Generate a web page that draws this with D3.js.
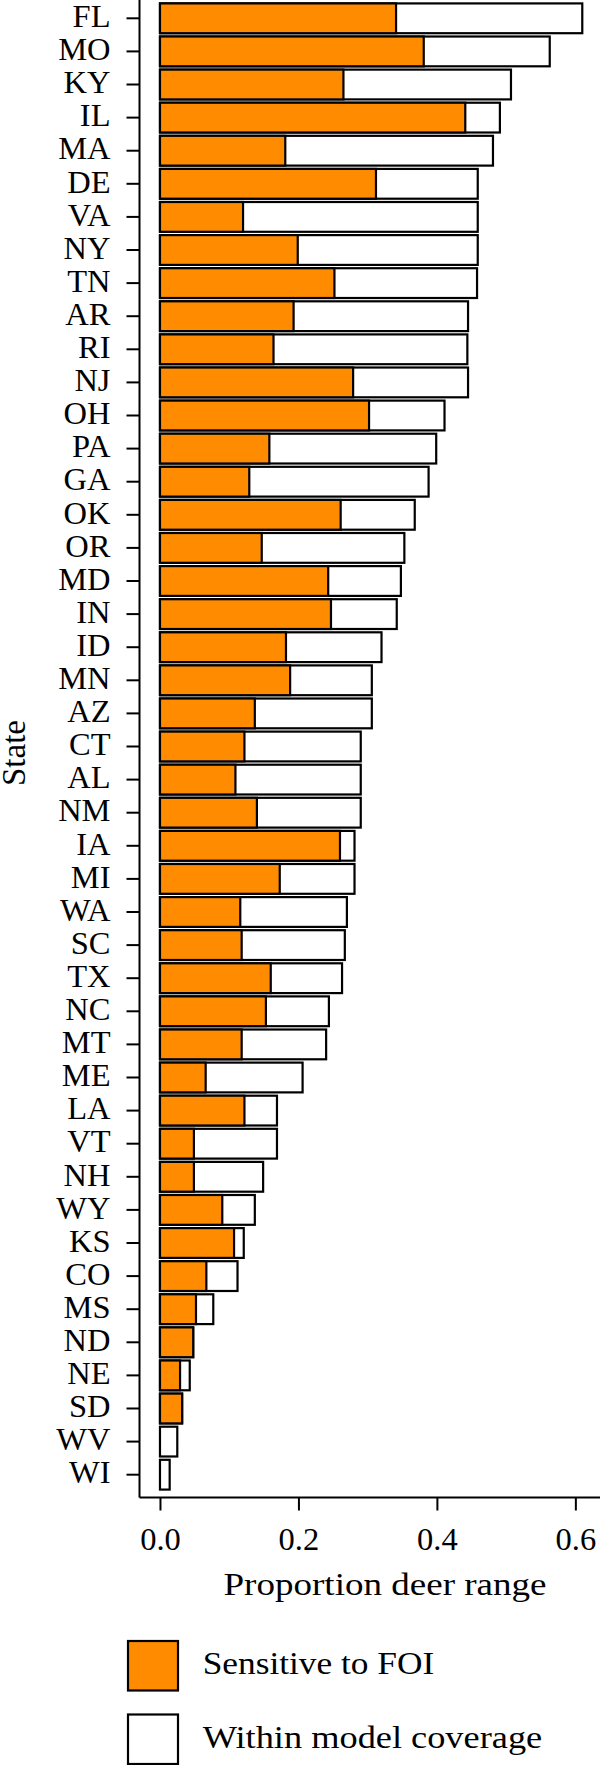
<!DOCTYPE html>
<html>
<head>
<meta charset="utf-8">
<script src="https://cdn.jsdelivr.net/npm/d3@7"></script>
<style>
  html, body { margin: 0; padding: 0; background: #ffffff; }
  svg { display: block; }
  text { font-family: "Liberation Serif", "Times New Roman", serif; fill: #000; }
</style>
</head>
<body>
<div id="chart"></div>
<script>
// ---- data ----
const states = ["FL","MO","KY","IL","MA","DE","VA","NY","TN","AR","RI","NJ","OH","PA","GA",
  "OK","OR","MD","IN","ID","MN","AZ","CT","AL","NM","IA","MI","WA","SC","TX",
  "NC","MT","ME","LA","VT","NH","WY","KS","CO","MS","ND","NE","SD","WV","WI"];
const sensitiveFOI = [0.341,0.381,0.265,0.441,0.181,0.312,0.120,0.199,0.252,0.193,0.164,0.279,0.302,0.158,0.129,
  0.261,0.147,0.243,0.247,0.182,0.188,0.137,0.122,0.109,0.140,0.260,0.173,0.116,0.118,0.160,
  0.153,0.118,0.066,0.122,0.049,0.049,0.090,0.107,0.067,0.052,0.048,0.029,0.032,0,0];
const withinCoverage = [0.610,0.563,0.507,0.491,0.481,0.459,0.459,0.459,0.458,0.445,0.444,0.445,0.411,0.399,0.388,
  0.368,0.353,0.348,0.342,0.320,0.306,0.306,0.290,0.290,0.290,0.281,0.281,0.270,0.267,0.263,
  0.244,0.240,0.206,0.169,0.169,0.149,0.137,0.121,0.112,0.077,0.048,0.043,0.032,0.025,0.014];
const xTicks = [0, 0.2, 0.4, 0.6];
const seriesNames = ["Sensitive to FOI", "Within model coverage"];
const seriesColors = ["#ff8c00", "#ffffff"];

const W = 600, H = 1765;
const rows = states.map((s, i) => ({ state: s, sens: sensitiveFOI[i], cov: withinCoverage[i] }));

const svg = d3.select("#chart").append("svg")
  .attr("width", W).attr("height", H).attr("viewBox", `0 0 ${W} ${H}`);
svg.append("rect").attr("width", W).attr("height", H).attr("fill", "#fff");

const x = d3.scaleLinear().domain([-0.0303, 0.65]).range([139, 609.97]);
const y = d3.scaleBand().domain(states).range([-4, 1497]).paddingInner(0.1).paddingOuter(0.224);

const plot = svg.append("g");

// white (coverage) bars
plot.selectAll("rect.cov").data(rows).join("rect")
  .attr("class", "cov")
  .attr("x", x(0))
  .attr("y", d => y(d.state))
  .attr("width", d => x(d.cov) - x(0))
  .attr("height", y.bandwidth())
  .attr("fill", seriesColors[1])
  .attr("stroke", "#000").attr("stroke-width", 2.2);

// orange (sensitive) bars
plot.selectAll("rect.sens").data(rows.filter(d => d.sens > 0)).join("rect")
  .attr("class", "sens")
  .attr("x", x(0))
  .attr("y", d => y(d.state))
  .attr("width", d => x(d.sens) - x(0))
  .attr("height", y.bandwidth())
  .attr("fill", seriesColors[0])
  .attr("stroke", "#000").attr("stroke-width", 2.2);

// y axis
const yAxis = svg.append("g").attr("transform", `translate(${x.range()[0]},0)`)
  .call(d3.axisLeft(y).tickSize(12.5).tickSizeOuter(0).tickPadding(16));
yAxis.select(".domain").attr("stroke", "#000").attr("stroke-width", 2);
yAxis.selectAll(".tick line").attr("stroke", "#000").attr("stroke-width", 2);
yAxis.selectAll(".tick text")
  .attr("font-size", 32.5).attr("dy", "0.27em");

// x axis
const xAxis = svg.append("g").attr("transform", `translate(0,${y.range()[1]})`)
  .call(d3.axisBottom(x).tickValues(xTicks).tickFormat(d3.format(".1f"))
    .tickSize(13.5).tickSizeOuter(0).tickPadding(16.5));
xAxis.select(".domain").attr("stroke", "#000").attr("stroke-width", 2);
xAxis.selectAll(".tick line").attr("stroke", "#000").attr("stroke-width", 2);
xAxis.selectAll(".tick text")
  .attr("font-size", 32.5);

// axis titles
svg.append("text")
  .attr("x", 223.5).attr("y", 1594.5)
  .attr("font-size", 32)
  .attr("textLength", 323).attr("lengthAdjust", "spacingAndGlyphs")
  .text("Proportion deer range");

svg.append("text")
  .attr("transform", "translate(25,753) rotate(-90)")
  .attr("text-anchor", "middle")
  .attr("font-size", 33)
  .text("State");

// legend
const legendLengths = [231.5, 339.5];
const legend = svg.append("g");
seriesNames.forEach((name, i) => {
  const gy = 1641 + i * 73.5;
  legend.append("rect")
    .attr("x", 128).attr("y", gy)
    .attr("width", 50).attr("height", 49.5)
    .attr("fill", seriesColors[i])
    .attr("stroke", "#000").attr("stroke-width", 2.2);
  legend.append("text")
    .attr("x", 202.7).attr("y", gy + 33.3)
    .attr("font-size", 32.5)
    .attr("textLength", legendLengths[i]).attr("lengthAdjust", "spacingAndGlyphs")
    .text(name);
});
</script>
</body>
</html>
